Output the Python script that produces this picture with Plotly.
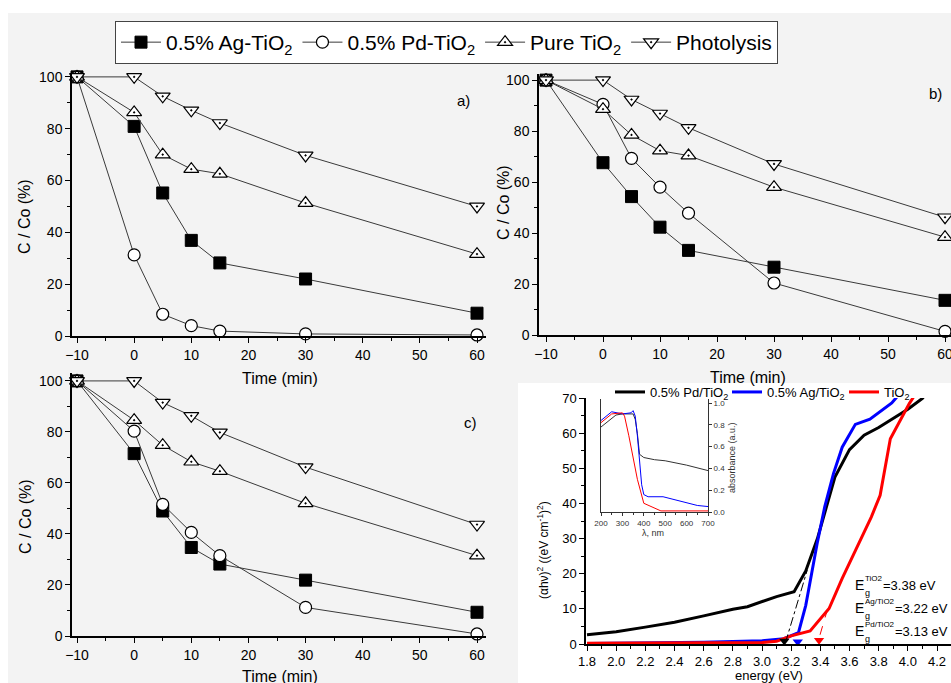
import plotly.graph_objects as go

W, H = 951, 683

# ---------------- data ----------------
time_min = [-10, 0, 5, 10, 15, 30, 60]
series_names = ["0.5% Ag-TiO<sub>2</sub>", "0.5% Pd-TiO<sub>2</sub>", "Pure TiO<sub>2</sub>", "Photolysis"]

a_ag = [100, 80.9, 55.2, 36.9, 28.2, 22.0, 8.8]
a_pd = [100, 31.3, 8.4, 4.0, 1.9, 0.8, 0.4]
a_pure = [100, 86.3, 70.0, 64.4, 62.6, 51.3, 31.6]
a_photo = [100, 100, 92.5, 87.1, 82.2, 69.7, 50.0]

b_ag = [100, 67.6, 54.3, 42.3, 33.2, 26.6, 13.6]
b_pd = [100, 90.5, 69.3, 58.0, 47.8, 20.4, 1.4]
b_pure = [100, 88.6, 78.5, 72.3, 70.4, 58.0, 38.4]
b_photo = [100, 100, 92.4, 86.9, 81.3, 67.1, 46.2]

c_ag = [100, 71.5, 49.0, 34.7, 28.2, 21.9, 9.3]
c_pd = [100, 80.3, 51.6, 40.6, 31.5, 11.2, 0.8]
c_pure = [100, 84.6, 74.8, 68.3, 64.6, 52.0, 31.5]
c_photo = [100, 100, 91.5, 86.3, 79.8, 66.2, 43.7]

# Tauc plot (panel d)
pd_E = [1.8, 2.0, 2.2, 2.4, 2.6, 2.8, 2.9, 3.0, 3.1, 3.22, 3.3, 3.38, 3.5, 3.6, 3.7, 3.8, 3.9, 4.0, 4.1, 4.14]
pd_y = [2.6, 3.5, 4.8, 6.2, 8.0, 9.9, 10.6, 12.0, 13.5, 14.9, 20.8, 30.0, 47.5, 55.3, 59.4, 61.6, 64.2, 66.8, 69.9, 72]
ag_E = [1.8, 2.2, 2.6, 3.0, 3.15, 3.25, 3.30, 3.34, 3.38, 3.43, 3.49, 3.55, 3.64, 3.74, 3.89, 3.96]
ag_y = [0.15, 0.25, 0.5, 0.9, 1.5, 3.2, 11.0, 20.0, 29.0, 39.0, 48.5, 56.0, 62.5, 64.0, 68.6, 72]
ti_E = [1.8, 2.6, 3.0, 3.1, 3.2, 3.33, 3.46, 3.55, 3.65, 3.75, 3.81, 3.88, 4.01, 4.05]
ti_y = [0.2, 0.25, 0.4, 0.8, 2.3, 3.7, 10.1, 18.7, 27.7, 36.2, 42.3, 58.4, 68.4, 71]

pd_tangent_E = [3.16, 3.31]
pd_tangent_y = [0.3, 21.0]
ti_tangent_E = [3.45, 3.39]
ti_tangent_y = [10.0, 1.5]
arrow_E = [3.153, 3.245, 3.391]
arrow_y = [0.85, 0.65, 1.1]
arrow_colors = ["black", "blue", "red"]

eg_labels = ["TiO2", "Ag/TiO2", "Pd/TiO2"]
eg_values = ["3.38", "3.22", "3.13"]

# inset absorbance
in_pd_nm = [200, 270, 300, 350, 360, 370, 380, 400, 450, 500, 600, 700]
in_pd_ab = [0.78, 0.89, 0.90, 0.90, 0.85, 0.72, 0.53, 0.50, 0.48, 0.47, 0.43, 0.38]
in_ag_nm = [200, 250, 300, 340, 350, 360, 370, 380, 390, 400, 420, 490, 550, 650, 700]
in_ag_ab = [0.84, 0.92, 0.90, 0.91, 0.93, 0.88, 0.70, 0.45, 0.25, 0.16, 0.14, 0.14, 0.11, 0.06, 0.05]
in_ti_nm = [200, 250, 300, 310, 330, 350, 370, 400, 450, 480, 700]
in_ti_ab = [0.82, 0.90, 0.91, 0.88, 0.70, 0.50, 0.30, 0.08, 0.04, 0.01, 0.01]

# ---------------- helpers ----------------
def fx(px):
    return px / W

def fy(py):
    return 1 - py / H

FONT = "Arial, Liberation Sans, sans-serif"
LINEC = "#3a3a3a"

styles = [
    dict(symbol="square", size=12, color="black", line=dict(color="black", width=1)),
    dict(symbol="circle", size=12, color="white", line=dict(color="black", width=1.2)),
    dict(symbol="triangle-up-dot", size=13, color="white", line=dict(color="black", width=1.2)),
    dict(symbol="triangle-down-dot", size=13, color="white", line=dict(color="black", width=1.2)),
]

fig = go.Figure()

panels = [
    ("x", "y", [a_ag, a_pd, a_pure, a_photo], True),
    ("x2", "y2", [b_ag, b_pd, b_pure, b_photo], False),
    ("x3", "y3", [c_ag, c_pd, c_pure, c_photo], False),
]
for xa, ya, sets, show in panels:
    for i, vals in enumerate(sets):
        fig.add_trace(go.Scatter(
            x=time_min, y=vals, mode="lines+markers", name=series_names[i],
            xaxis=xa, yaxis=ya, showlegend=show, legend="legend",
            line=dict(color=LINEC, width=1), marker=styles[i], cliponaxis=False,
        ))

# panel d
for E, yv, nm, col in [(pd_E, pd_y, "0.5% Pd/TiO<sub>2</sub>", "black"),
                       (ag_E, ag_y, "0.5% Ag/TiO<sub>2</sub>", "blue"),
                       (ti_E, ti_y, "TiO<sub>2</sub>", "red")]:
    fig.add_trace(go.Scatter(x=E, y=yv, mode="lines", name=nm, xaxis="x4", yaxis="y4",
                             line=dict(color=col, width=3), legend="legend2", showlegend=True))
fig.add_trace(go.Scatter(x=pd_tangent_E, y=pd_tangent_y, mode="lines", xaxis="x4", yaxis="y4",
                         line=dict(color="black", width=1, dash="dashdot"), showlegend=False))
fig.add_trace(go.Scatter(x=ti_tangent_E, y=ti_tangent_y, mode="lines", xaxis="x4", yaxis="y4",
                         line=dict(color="red", width=1, dash="dash"), showlegend=False))
fig.add_trace(go.Scatter(x=arrow_E, y=arrow_y, mode="markers", xaxis="x4", yaxis="y4",
                         marker=dict(symbol="triangle-down", size=9, color=arrow_colors),
                         showlegend=False, cliponaxis=False))

# inset
for nm_, ab, col in [(in_pd_nm, in_pd_ab, "#333333"), (in_ag_nm, in_ag_ab, "blue"), (in_ti_nm, in_ti_ab, "red")]:
    fig.add_trace(go.Scatter(x=nm_, y=ab, mode="lines", xaxis="x5", yaxis="y5",
                             line=dict(color=col, width=1), showlegend=False))

# ---------------- axes ----------------
def time_x(dom, rng, anchor):
    return dict(domain=dom, range=rng, anchor=anchor, tickvals=[-10, 0, 10, 20, 30, 40, 50, 60],
                showline=True, linecolor="black", linewidth=1.5, ticks="outside", ticklen=5,
                tickcolor="black", showgrid=False, zeroline=False, ticklabeloverflow="allow",
                tickfont=dict(size=14, color="black"),
                minor=dict(tickvals=[-5, 5, 15, 25, 35, 45, 55], ticks="outside", ticklen=3, tickcolor="black"))

def conc_y(dom, rng, anchor):
    return dict(domain=dom, range=rng, anchor=anchor, tickvals=[0, 20, 40, 60, 80, 100],
                showline=True, linecolor="black", linewidth=1.5, ticks="outside", ticklen=5,
                tickcolor="black", showgrid=False, zeroline=False,
                tickfont=dict(size=14, color="black"),
                minor=dict(tickvals=[10, 30, 50, 70, 90], ticks="outside", ticklen=3, tickcolor="black"))

layout = dict(
    width=W, height=H, margin=dict(l=0, r=0, t=0, b=0, autoexpand=False),
    paper_bgcolor="white", plot_bgcolor="rgba(0,0,0,0)",
    font=dict(family=FONT, color="black"),
    xaxis=time_x([fx(72), fx(486)], [-10.875, 61.575], "y"),
    yaxis=conc_y([fy(336), fy(73)], [0, 101.5], "x"),
    xaxis2=time_x([fx(539), 1.0], [-11.23, 61.05], "y2"),
    yaxis2=conc_y([fy(335), fy(74)], [0, 102.4], "x2"),
    xaxis3=time_x([fx(72), fx(486)], [-10.875, 61.575], "y3"),
    yaxis3=conc_y([fy(636), fy(373)], [0, 103.1], "x3"),
    xaxis4=dict(domain=[fx(586), 1.0], range=[1.793, 4.296], anchor="y4",
                tickvals=[1.8, 2.0, 2.2, 2.4, 2.6, 2.8, 3.0, 3.2, 3.4, 3.6, 3.8, 4.0, 4.2],
                ticktext=["1.8", "2.0", "2.2", "2.4", "2.6", "2.8", "3.0", "3.2", "3.4", "3.6", "3.8", "4.0", "4.2"],
                showline=True, linecolor="black", linewidth=1.5, ticks="outside", ticklen=5,
                tickcolor="black", showgrid=False, zeroline=False, tickfont=dict(size=13),
                minor=dict(dtick=0.1, tick0=1.8, ticks="outside", ticklen=3, tickcolor="black")),
    yaxis4=dict(domain=[fy(644), fy(398)], range=[0, 70], anchor="x4", dtick=10,
                showline=True, linecolor="black", linewidth=1.5, ticks="outside", ticklen=5,
                tickcolor="black", showgrid=False, zeroline=False, tickfont=dict(size=13),
                minor=dict(dtick=5, ticks="outside", ticklen=3, tickcolor="black")),
    xaxis5=dict(domain=[fx(601), fx(708)], range=[200, 700], anchor="y5", dtick=100,
                showline=True, linecolor="#333", linewidth=1, ticks="outside", ticklen=3,
                tickcolor="#333", showgrid=False, zeroline=False, tickfont=dict(size=8, color="#333"),
                minor=dict(dtick=50, ticks="outside", ticklen=2, tickcolor="#333")),
    yaxis5=dict(domain=[fy(512), fy(399)], range=[0, 1.037], anchor="x5", side="right",
                tickvals=[0, 0.2, 0.4, 0.6, 0.8, 1.0], tickformat=".1f",
                showline=True, mirror=True, linecolor="#333", linewidth=1, ticks="outside", ticklen=3,
                tickcolor="#333", showgrid=False, zeroline=False, tickfont=dict(size=8, color="#333")),
    legend=dict(orientation="h", x=fx(115), y=fy(21), xanchor="left", yanchor="top",
                bgcolor="white", bordercolor="#444", borderwidth=1, itemwidth=40,
                font=dict(size=21, family=FONT, color="black")),
    legend2=dict(orientation="h", x=fx(610), y=fy(392), xanchor="left", yanchor="middle",
                 bgcolor="rgba(0,0,0,0)", font=dict(size=13, family=FONT, color="black"),
                 itemwidth=30, entrywidth=72, entrywidthmode="pixels"),
    shapes=[
        dict(type="rect", xref="paper", yref="paper", x0=fx(8), x1=1.0, y0=0, y1=fy(13),
             fillcolor="#f3f3f3", line=dict(width=0), layer="below"),
        dict(type="rect", xref="paper", yref="paper", x0=fx(518), x1=1.0, y0=0, y1=fy(383),
             fillcolor="white", line=dict(width=0), layer="below"),
    ],
)

ann = []
def add_text(text, px, py, size, angle=0, xanchor="center", color="black"):
    ann.append(dict(text=text, x=fx(px), y=fy(py), xref="paper", yref="paper", showarrow=False,
                    font=dict(size=size, family=FONT, color=color), textangle=angle,
                    xanchor=xanchor, yanchor="middle"))

add_text("Time (min)", 280, 378, 16)
add_text("Time (min)", 748, 377, 16)
add_text("Time (min)", 280, 676, 16)
add_text("C / Co (%)", 25, 217, 16, -90)
add_text("C / Co (%)", 503, 203, 16, -90)
add_text("C / Co (%)", 25, 517, 16, -90)
add_text("a)", 463, 100, 15)
add_text("b)", 935, 93, 15)
add_text("c)", 470, 422, 15)
add_text("energy (eV)", 769, 675, 13)
add_text("(αhν)<sup>2</sup> ((eV cm<sup>-1</sup>)<sup>2</sup>)", 543, 550, 12, -90)
add_text("λ, nm", 653, 533, 9, color="#333")
add_text("absorbance (a.u.)", 732, 458, 9, -90, color="#333")

eq_x = [881, 893, 893]
for i, (lab, val) in enumerate(zip(eg_labels, eg_values)):
    yy = 585 + i * 23
    add_text("E", 853, yy, 14, xanchor="left")
    add_text(lab, 863, yy - 7, 8, xanchor="left")
    add_text("g", 863, yy + 8, 9, xanchor="left")
    add_text("=" + val + " eV", eq_x[i], yy, 13, xanchor="left")
layout["annotations"] = ann

fig.update_layout(**layout)
fig.write_html("out.html")
